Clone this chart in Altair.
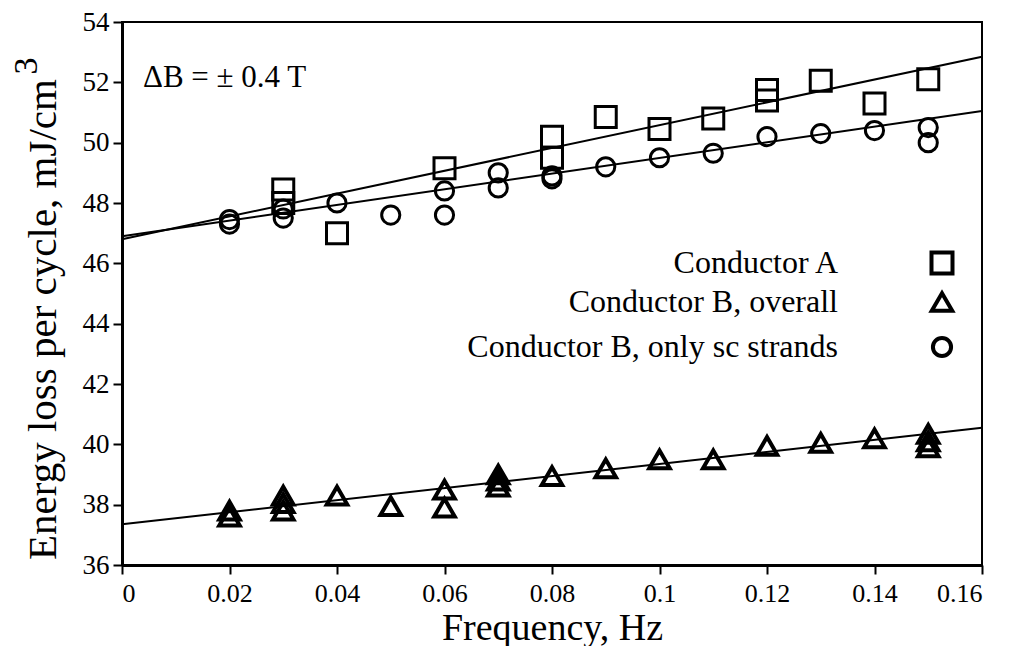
import altair as alt
import pandas as pd

# ---- data ----
freq_A = [0.03, 0.03, 0.04, 0.06, 0.08, 0.08, 0.09, 0.10, 0.11, 0.12, 0.12, 0.13, 0.14, 0.15]
loss_A = [48.45, 48.0, 47.0, 49.15, 50.2, 49.5, 50.85, 50.45, 50.8, 51.75, 51.4, 52.05, 51.3, 52.1]

freq_Bsc = [0.02, 0.02, 0.03, 0.03, 0.04, 0.05, 0.06, 0.06, 0.07, 0.07, 0.08, 0.08,
            0.09, 0.10, 0.11, 0.12, 0.13, 0.14, 0.15, 0.15]
loss_Bsc = [47.45, 47.3, 47.8, 47.5, 48.0, 47.6, 48.4, 47.6, 49.0, 48.5, 48.9, 48.8,
            49.2, 49.5, 49.65, 50.2, 50.3, 50.4, 50.5, 50.0]

freq_B = [0.02, 0.02, 0.03, 0.03, 0.03, 0.04, 0.05, 0.06, 0.06, 0.07, 0.07, 0.07,
          0.08, 0.09, 0.10, 0.11, 0.12, 0.13, 0.14, 0.15, 0.15, 0.15]
loss_B = [37.8, 37.6, 38.3, 38.05, 37.8, 38.3, 37.95, 38.5, 37.9, 39.0, 38.8, 38.6,
          38.95, 39.2, 39.5, 39.5, 39.95, 40.05, 40.2, 40.35, 40.1, 39.9]

fit_freq = [0.0, 0.16]
fit_A = [46.8, 52.85]
fit_Bsc = [46.9, 51.05]
fit_B = [37.35, 40.55]

x_ticks = [0, 0.02, 0.04, 0.06, 0.08, 0.10, 0.12, 0.14, 0.16]
y_ticks = [36, 38, 40, 42, 44, 46, 48, 50, 52, 54]

legend_labels = ["Conductor A", "Conductor B, overall", "Conductor B, only sc strands"]
annotation = "\u0394B = \u00b1 0.4 T"

FONT = "Liberation Serif"

# ---- tables ----
dfA = pd.DataFrame({"f": freq_A, "e": loss_A})
dfBsc = pd.DataFrame({"f": freq_Bsc, "e": loss_Bsc})
dfB = pd.DataFrame({"f": freq_B, "e": loss_B})
dfFit = pd.DataFrame({
    "f": fit_freq * 3,
    "e": fit_A + fit_Bsc + fit_B,
    "s": ["A"] * 2 + ["Bsc"] * 2 + ["B"] * 2,
})

xs = alt.Scale(domain=[0, 0.16], nice=False, zero=False)
ys = alt.Scale(domain=[36, 54], nice=False, zero=False)

xenc = alt.X("f:Q", scale=xs, axis=alt.Axis(
    values=x_ticks, format="~g", title="Frequency, Hz",
    labelFont=FONT, labelFontSize=26, labelColor="black", labelPadding=6,
    titleFontSize=38, titleFont=FONT, titleFontWeight="normal",
    titleY=74, titleBaseline="alphabetic", titleX=430, titleAlign="center",
))
yenc = alt.Y("e:Q", scale=ys, axis=alt.Axis(
    values=y_ticks, title="Energy loss per cycle, mJ/cm",
    labelFont=FONT, labelFontSize=27, labelColor="black",
    titleFontSize=41, titleFont=FONT, titleFontWeight="normal",
    titleAngle=270, titleX=-67, titleY=297, titleAlign="center",
    titleBaseline="alphabetic",
))

lines = alt.Chart(dfFit).mark_line(color="black", strokeWidth=2).encode(
    x=xenc, y=yenc, detail="s:N"
)

ptA = alt.Chart(dfA).mark_point(shape="square", filled=False, size=441,
                                strokeWidth=3, color="black", opacity=1).encode(x="f:Q", y="e:Q")
ptBsc = alt.Chart(dfBsc).mark_point(shape="circle", filled=False, size=330,
                                    strokeWidth=3, color="black", opacity=1).encode(x="f:Q", y="e:Q")
ptB = alt.Chart(dfB).mark_point(shape="triangle-up", filled=False, size=420,
                                strokeWidth=4, color="black", opacity=1).encode(x="f:Q", y="e:Q")

# legend (custom, labels on left of symbols)
leg_y = [241, 280, 325]
leg_shapes = ["square", "triangle-up", "circle"]
leg_sizes = [441, 420, 330]
leg_layers = []
for lab, yy, shp, sz in zip(legend_labels, leg_y, leg_shapes, leg_sizes):
    d = pd.DataFrame({"label": [lab]})
    leg_layers.append(
        alt.Chart(d).mark_text(align="right", baseline="middle", font=FONT,
                               fontSize=32, color="black").encode(
            text="label:N", x=alt.value(716), y=alt.value(yy))
    )
    leg_layers.append(
        alt.Chart(d).mark_point(shape=shp, filled=False, size=sz, strokeWidth=4,
                                color="black", opacity=1).encode(
            x=alt.value(820), y=alt.value(yy))
    )

ann = alt.Chart(pd.DataFrame({"t": [annotation]})).mark_text(
    align="left", baseline="middle", font=FONT, fontSize=31, color="black"
).encode(text="t:N", x=alt.value(21), y=alt.value(56))

sup3 = alt.Chart(pd.DataFrame({"t": ["3"]})).mark_text(
    align="center", baseline="alphabetic", font=FONT, fontSize=34, color="black",
    angle=270
).encode(text="t:N", x=alt.value(-85), y=alt.value(44))

chart = alt.layer(lines, ptA, ptBsc, ptB, *leg_layers, ann, sup3).properties(
    width=860, height=543,
    autosize=alt.AutoSizeParams(type="none"),
    padding={"left": 114, "top": 14, "right": 26, "bottom": 81},
    background="white",
).configure(
    font=FONT
).configure_view(
    stroke="black", strokeWidth=2
).configure_text(
    font=FONT
).configure_axis(
    grid=False, domainColor="black", domainWidth=3, tickColor="black",
    tickWidth=2, tickSize=9, labelFont=FONT,
    labelColor="black", titleColor="black", labelPadding=4,
)

chart.save("out.html", embed_options={"renderer": "svg", "actions": False})
